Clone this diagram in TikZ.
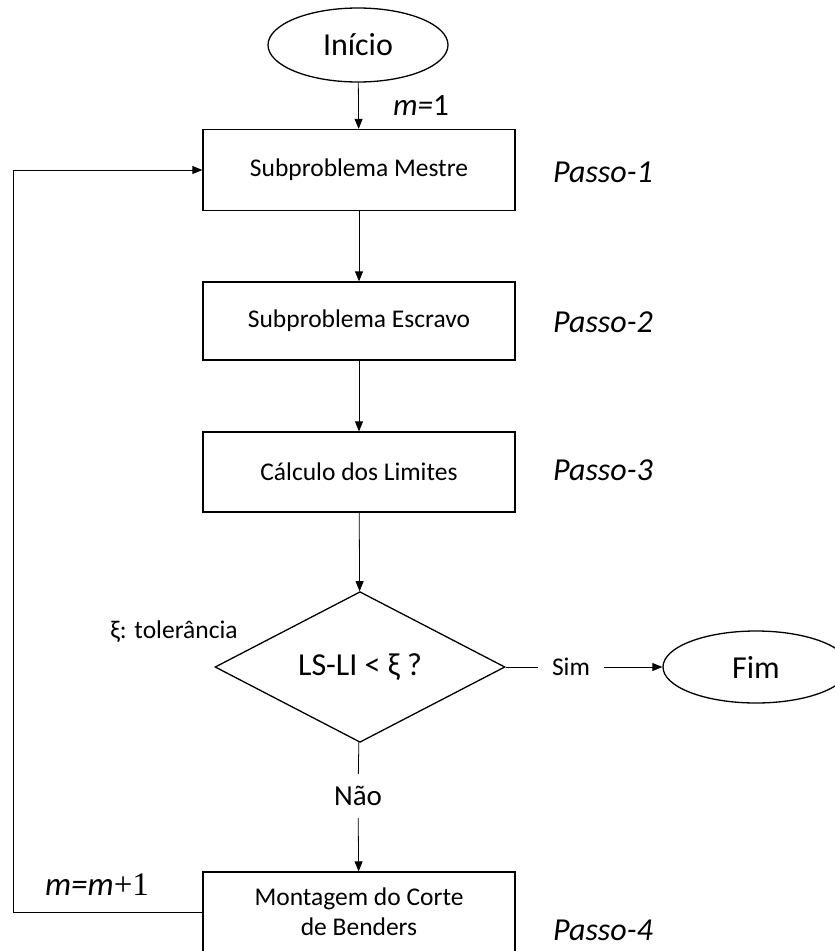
\documentclass[tikz,border=0pt]{standalone}
\usepackage{fontspec}
\setmainfont{Carlito}
\newfontfamily\timesfont{Liberation Serif}
\usetikzlibrary{shapes.geometric,arrows.meta}

\tikzset{
  etapa/.style={rectangle, draw, line width=1.3pt, minimum width=312pt, minimum height=80pt, inner sep=0pt, align=center, font=\fontsize{25.5}{30}\selectfont},
  terminal/.style={ellipse, draw, line width=1.3pt, minimum height=74pt, inner sep=0pt, font=\fontsize{32}{38}\selectfont},
  passo/.style={font=\fontsize{32}{38}\selectfont\itshape},
  rotulo/.style={font=\fontsize{25.5}{30}\selectfont}
}

\begin{document}
\begin{tikzpicture}[x=1pt, y=-1pt, line width=0.8pt, >={Triangle[length=10pt,width=8pt]}]
    \useasboundingbox (0,0) rectangle (835,951);

    % Nodes
    \node[terminal, minimum width=180pt] at (358, 45) (inicio) {Início};
    \node[etapa, minimum height=81pt] at (359, 170) (mestre) {Subproblema Mestre};
    \node[etapa, minimum height=78pt] at (359, 321) (escravo) {Subproblema Escravo};
    \node[etapa] at (359, 472) (limites) {Cálculo dos Limites};
    \node[diamond, draw, line width=1.3pt, minimum width=290pt, minimum height=129pt, inner sep=0pt, font=\fontsize{32}{38}\selectfont] at (360, 667) (teste) {LS-LI < ξ ?};
    \node[etapa] at (359, 912) (benders) {Montagem do Corte\\de Benders};
    \node[terminal, minimum width=186pt, minimum height=72pt] at (756, 667) (fim) {Fim};

    % Labels
    \node[rotulo, inner sep=14pt] at (571, 667) (sim) {Sim};
    \node[rotulo, font=\fontsize{29}{34}\selectfont, inner sep=12pt] at (358, 796) (nao) {Não};
    \node[rotulo] at (174, 632) (tol) {ξ: tolerância};
    \node[font=\fontsize{31}{36}\selectfont] at (421, 106) (m1) {\textit{m=}1};
    \node[font=\fontsize{33}{38}\selectfont] at (97, 885) (mm1) {\textit{m=m}{\timesfont+1}};
    \node[passo] at (603, 172) (p1) {Passo-1};
    \node[passo] at (603, 322) (p2) {Passo-2};
    \node[passo] at (603, 470) (p3) {Passo-3};
    \node[passo] at (603, 930) (p4) {Passo-4};

    \coordinate (canto) at (13, 912);

    % Connectors
    \draw[->] (inicio) edge (mestre);
    \draw[->] (mestre) edge (escravo);
    \draw[->] (escravo) edge (limites);
    \draw[->] (limites) edge (teste);
    \draw (teste) -- (sim);
    \draw[->] (sim) edge (fim);
    \draw (teste) -- (nao);
    \draw[->] (nao) edge (benders);
    \draw[->] (benders) -- (canto) |- (mestre);

  \end{tikzpicture}
\end{document}
